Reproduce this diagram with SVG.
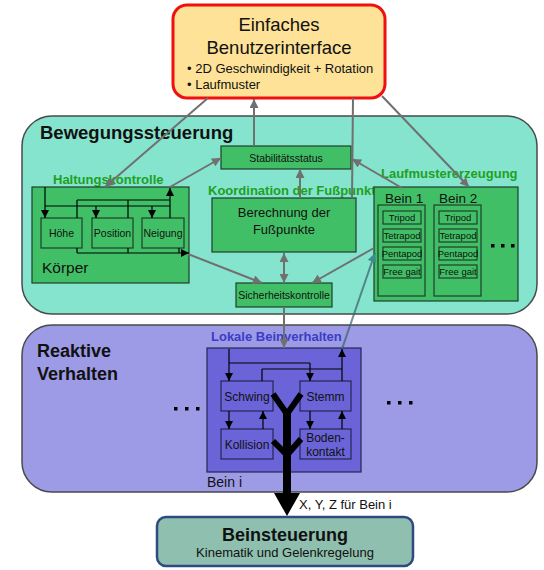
<svg xmlns="http://www.w3.org/2000/svg" width="544" height="570" viewBox="0 0 544 570">
<defs>
<style>
text{font-family:"Liberation Sans",Arial,sans-serif;fill:#111}
.g{fill:#41BF66;stroke:#1E3E2A;stroke-width:1.2}
.p{fill:#6A64D8;stroke:#262650;stroke-width:1.2}
.c{stroke:#707070;stroke-width:2;fill:none}
.k{stroke:#000;stroke-width:1.2;fill:none}
.lbl{font-weight:bold;font-size:13px;fill:#1FA01F}
.m{text-anchor:middle}
</style>
<marker id="ag" viewBox="0 0 10 10" refX="10" refY="5" markerWidth="10" markerHeight="9" markerUnits="userSpaceOnUse" orient="auto-start-reverse"><path d="M0,0 L10,5 L0,10 z" fill="#707070"/></marker>
<marker id="at" viewBox="0 0 10 10" refX="10" refY="5" markerWidth="10" markerHeight="9" markerUnits="userSpaceOnUse" orient="auto"><path d="M0,0 L10,5 L0,10 z" fill="#3E8C8C"/></marker>
<marker id="ak" viewBox="0 0 10 10" refX="10" refY="5" markerWidth="8" markerHeight="8" markerUnits="userSpaceOnUse" orient="auto"><path d="M0,0 L10,5 L0,10 z" fill="#000"/></marker>
</defs>
<rect width="544" height="570" fill="#fff"/>

<g id="bewegungssteuerung">
<rect x="22" y="116" width="515" height="198" rx="30" fill="#84E4CD" stroke="#4A4A4A" stroke-width="1.5"/>
<text x="40" y="139" font-size="18.5" font-weight="bold">Bewegungssteuerung</text>
</g>

<g id="reaktive-verhalten">
<rect x="22" y="325" width="515" height="167" rx="30" fill="#9D9BE5" stroke="#4A4A4A" stroke-width="1.5"/>
<text x="37" y="357" font-size="18" font-weight="bold">Reaktive</text>
<text x="37" y="380" font-size="18" font-weight="bold">Verhalten</text>
<g fill="#000"><rect x="174" y="407" width="3.5" height="3.5"/><rect x="185" y="407" width="3.5" height="3.5"/><rect x="196" y="407" width="3.5" height="3.5"/>
<rect x="387" y="401" width="3.5" height="3.5"/><rect x="398" y="401" width="3.5" height="3.5"/><rect x="409" y="401" width="3.5" height="3.5"/></g>
</g>

<g id="benutzerinterface">
<rect x="173" y="5" width="212" height="93" rx="14" fill="#FDE297" stroke="#F01010" stroke-width="3"/>
<text x="279" y="31" font-size="18.5" class="m">Einfaches</text>
<text x="279" y="54" font-size="18.5" class="m">Benutzerinterface</text>
<text x="187" y="73" font-size="13">• 2D Geschwindigkeit + Rotation</text>
<text x="187" y="89" font-size="13">• Laufmuster</text>
</g>

<g id="stabilitaetsstatus">
<rect x="221" y="146" width="130" height="23" class="g"/>
<text x="286" y="161.5" font-size="10.5" class="m">Stabilitätsstatus</text>
</g>

<g id="haltungskontrolle">
<text x="53" y="184" class="lbl">Haltungskontrolle</text>
<rect x="32" y="187" width="157" height="96" class="g"/>
<text x="42" y="273" font-size="15.5">Körper</text>
</g>
<g id="hoehe"><rect x="41" y="218" width="41" height="30" class="g"/><text x="61.5" y="237" font-size="10.5" class="m">Höhe</text></g>
<g id="position"><rect x="92" y="218" width="41" height="30" class="g"/><text x="112.5" y="237" font-size="10.5" class="m">Position</text></g>
<g id="neigung"><rect x="142" y="218" width="42" height="30" class="g"/><text x="163" y="237" font-size="10.5" class="m">Neigung</text></g>

<g id="koordination">
<text x="208" y="195" class="lbl">Koordination der Fußpunkte</text>
<rect x="212" y="198" width="144" height="54" class="g"/>
<text x="284" y="217" font-size="13" class="m">Berechnung der</text>
<text x="284" y="234" font-size="13" class="m">Fußpunkte</text>
</g>

<g id="sicherheitskontrolle">
<rect x="236" y="283" width="96" height="24" class="g"/>
<text x="284" y="299" font-size="10.5" class="m">Sicherheitskontrolle</text>
</g>

<g id="laufmustererzeugung">
<text x="381" y="178" class="lbl">Laufmustererzeugung</text>
<rect x="374" y="187" width="144" height="114" class="g"/>
<g fill="#000"><rect x="491" y="244" width="3.5" height="3.5"/><rect x="501" y="244" width="3.5" height="3.5"/><rect x="511" y="244" width="3.5" height="3.5"/></g>
</g>
<g id="bein1">
<text x="385" y="203" font-size="13.5">Bein 1</text>
<rect x="378" y="205" width="47" height="91" class="g"/>
<rect x="383" y="211" width="38" height="13" class="g"/><text x="402" y="221" font-size="9.5" class="m">Tripod</text>
<rect x="383" y="229" width="38" height="13" class="g"/><text x="402" y="239" font-size="9.5" class="m">Tetrapod</text>
<rect x="383" y="247" width="38" height="13" class="g"/><text x="402" y="257" font-size="9.5" class="m">Pentapod</text>
<rect x="383" y="265" width="38" height="13" class="g"/><text x="402" y="275" font-size="9.5" class="m">Free gait</text>
</g>
<g id="bein2">
<text x="439" y="203" font-size="13.5">Bein 2</text>
<rect x="434" y="205" width="47" height="91" class="g"/>
<rect x="439" y="211" width="38" height="13" class="g"/><text x="458" y="221" font-size="9.5" class="m">Tripod</text>
<rect x="439" y="229" width="38" height="13" class="g"/><text x="458" y="239" font-size="9.5" class="m">Tetrapod</text>
<rect x="439" y="247" width="38" height="13" class="g"/><text x="458" y="257" font-size="9.5" class="m">Pentapod</text>
<rect x="439" y="265" width="38" height="13" class="g"/><text x="458" y="275" font-size="9.5" class="m">Free gait</text>
</g>

<g id="lokale-beinverhalten">
<text x="211" y="341" font-size="13" font-weight="bold" fill="#3C3CC8" style="fill:#3C3CC8">Lokale Beinverhalten</text>
<rect x="207" y="348" width="154" height="124" class="p"/>
<text x="207" y="487" font-size="14">Bein i</text>
</g>
<g id="schwing"><rect x="221" y="381" width="52" height="30" class="p"/><text x="247" y="401" font-size="12" class="m">Schwing</text></g>
<g id="stemm"><rect x="300" y="381" width="51" height="30" class="p"/><text x="325.5" y="401" font-size="12" class="m">Stemm</text></g>
<g id="kollision"><rect x="221" y="429" width="52" height="30" class="p"/><text x="247" y="449" font-size="12" class="m">Kollision</text></g>
<g id="bodenkontakt"><rect x="300" y="429" width="51" height="30" class="p"/><text x="325.5" y="442" font-size="12" class="m">Boden-</text><text x="325.5" y="456" font-size="12" class="m">kontakt</text></g>

<g id="beinsteuerung">
<rect x="157" y="517" width="256" height="49" rx="9" fill="#8FBFAF" stroke="#2E4A80" stroke-width="2.5"/>
<text x="285" y="541" font-size="18" font-weight="bold" class="m">Beinsteuerung</text>
<text x="285" y="557" font-size="13" class="m">Kinematik und Gelenkregelung</text>
</g>

<g id="connectors">
<path class="c" d="M208,98 L105,187" marker-end="url(#ag)"/>
<path class="c" d="M254,146 L254,99" marker-end="url(#ag)"/>
<path class="c" d="M353,98 L352,198"/>
<path class="c" d="M382,96 L469,187" marker-end="url(#ag)"/>
<path class="c" d="M170,187 L221,158" marker-end="url(#ag)"/>
<path class="c" d="M402,188 L352,159" marker-end="url(#ag)"/>
<path class="c" d="M300,198 L300,169" marker-end="url(#ag)"/>
<path class="c" d="M284,253 L284,283" marker-start="url(#ag)" marker-end="url(#ag)"/>
<path class="c" d="M188,254 L262,283" marker-end="url(#ag)"/>
<path class="c" d="M374,248 L312,283" marker-end="url(#ag)"/>
<path class="c" d="M284,307 L284,348" marker-end="url(#ag)"/>
<path d="M342,349 L375,253" stroke="#3A6068" stroke-opacity="0.7" stroke-width="2" fill="none" marker-end="url(#at)"/>

<path class="k" d="M45,187 L45,218" marker-end="url(#ak)"/>
<path class="k" d="M45,206 L170,206 M77,200 L170,200 M77,200 L77,218 M77,248 L77,253 M128,200 L128,218 M128,248 L128,253 M179,248 L179,253"/>
<path class="k" d="M96,206 L96,218" marker-end="url(#ak)"/>
<path class="k" d="M152,206 L152,218" marker-end="url(#ak)"/>
<path class="k" d="M170,218 L170,188" marker-end="url(#ak)"/>
<path class="k" d="M77,253 L189,253" marker-end="url(#ak)"/>

<path class="k" d="M229,349 L229,381" marker-end="url(#ak)"/>
<path class="k" d="M229,363 L310,363 M262,369 L342,369 M262,369 L262,381"/>
<path class="k" d="M310,363 L310,381" marker-end="url(#ak)"/>
<path class="k" d="M342,381 L342,349" marker-end="url(#ak)"/>
<path class="k" d="M229,411 L229,429" marker-end="url(#ak)"/>
<path class="k" d="M263,429 L263,411" marker-end="url(#ak)"/>
<path class="k" d="M310,411 L310,429" marker-end="url(#ak)"/>
<path class="k" d="M342,429 L342,411" marker-end="url(#ak)"/>

<path d="M287,412 L287,495" stroke="#000" stroke-width="8" fill="none"/>
<polyline points="273,394 287,414 301,394" stroke="#000" stroke-width="6" fill="none"/>
<polyline points="273,441 287,455 301,439" stroke="#000" stroke-width="6" fill="none"/>
<polygon points="274,493 300,493 287,516" fill="#000"/>
<text x="299" y="509" font-size="13">X, Y, Z für Bein i</text>
</g>
</svg>
